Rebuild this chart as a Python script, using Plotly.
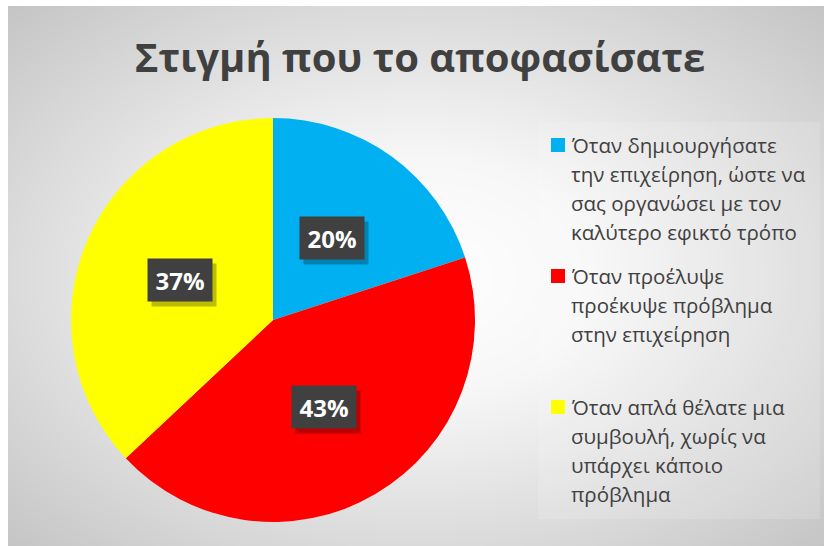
import numpy as np
import plotly.graph_objects as go

# ---- data -------------------------------------------------------------
title_text = "Στιγμή που το αποφασίσατε"
categories = [
    "Όταν δημιουργήσατε την επιχείρηση, ώστε να σας οργανώσει με τον καλύτερο εφικτό τρόπο",
    "Όταν προέλυψε προέκυψε πρόβλημα στην επιχείρηση",
    "Όταν απλά θέλατε μια συμβουλή, χωρίς να υπάρχει κάποιο πρόβλημα",
]
legend_lines = [
    ["Όταν δημιουργήσατε", "την επιχείρηση, ώστε να", "σας οργανώσει με τον", "καλύτερο εφικτό τρόπο"],
    ["Όταν προέλυψε", "προέκυψε πρόβλημα", "στην επιχείρηση"],
    ["Όταν απλά θέλατε μια", "συμβουλή, χωρίς να", "υπάρχει κάποιο", "πρόβλημα"],
]
values = [20, 43, 37]
colors = ["#00B0F0", "#FF0000", "#FFFF00"]

# ---- geometry (pixels) ------------------------------------------------
W, H = 824, 546
CX, CY, R = 273, 320, 202          # pie centre / radius, y measured from top
BG_X0, BG_Y1 = 8, 6                 # chart-area offset inside the page
FONT = "Open Sans"
TEXT_DARK = "#404040"


def px_x(x):
    return x / W


def px_y(y):
    return 1 - y / H


fig = go.Figure()

# soft radial background (white centre fading to grey edges)
gx = np.linspace(-1, 1, 61)
gy = np.linspace(-1, 1, 41)
XX, YY = np.meshgrid(gx, gy)
dist = np.sqrt(XX ** 2 + YY ** 2)
fig.add_trace(go.Heatmap(
    x=gx, y=gy, z=dist, zmin=0, zmax=1.45, zsmooth="best",
    colorscale=[[0, "#ffffff"], [0.3, "#f7f7f7"], [1, "#c3c3c3"]],
    showscale=False, hoverinfo="skip", xaxis="x", yaxis="y",
))

# pie
fig.add_trace(go.Pie(
    labels=categories, values=values, sort=False, direction="clockwise",
    rotation=0, marker=dict(colors=colors, line=dict(width=0)),
    textinfo="none", hoverinfo="label+percent", showlegend=False,
    domain=dict(x=[px_x(CX - R), px_x(CX + R)], y=[px_y(CY + R), px_y(CY - R)]),
))

annotations = []
shapes = []

# percentage labels placed half-way along each slice's mid-angle
total = sum(values)
cum = 0
for v in values:
    mid = (cum + v / 2) / total * 2 * np.pi
    cum += v
    lx = CX + 0.5 * R * np.sin(mid)
    ly = CY - 0.5 * R * np.cos(mid)
    pct = f"{round(v / total * 100)}%"
    common = dict(x=px_x(lx), y=px_y(ly), xref="paper", yref="paper",
                  showarrow=False, width=64, height=42, borderpad=0,
                  xanchor="center", yanchor="middle")
    annotations.append(dict(text="", bgcolor="rgba(0,0,0,0.26)",
                            xshift=4, yshift=-5, **common))
    annotations.append(dict(text=f"<b>{pct}</b>", bgcolor="#404040",
                            font=dict(family=FONT, size=24, color="white"),
                            **common))

# legend panel
shapes.append(dict(type="rect", xref="paper", yref="paper",
                   x0=px_x(538), x1=px_x(820), y0=px_y(519), y1=px_y(122),
                   fillcolor="rgba(255,255,255,0.14)", line=dict(width=0),
                   layer="above"))

item_tops = [145, 276, 407]
line_step = 29
for lines, col, top in zip(legend_lines, colors, item_tops):
    shapes.append(dict(type="rect", xref="paper", yref="paper",
                       x0=px_x(551), x1=px_x(565),
                       y0=px_y(top + 7), y1=px_y(top - 7),
                       fillcolor=col, line=dict(width=0), layer="above"))
    for k, line in enumerate(lines):
        annotations.append(dict(
            text=line, x=px_x(569), y=px_y(top + k * line_step),
            xref="paper", yref="paper", xanchor="left", yanchor="middle",
            showarrow=False, font=dict(family=FONT, size=20.5, color=TEXT_DARK),
        ))

fig.update_layout(
    width=W, height=H,
    margin=dict(l=0, r=0, t=0, b=0),
    paper_bgcolor="white", plot_bgcolor="rgba(0,0,0,0)",
    title=dict(text=f"<b>{title_text}</b>", x=px_x(420), y=px_y(58),
               xanchor="center", yanchor="middle",
               font=dict(family=FONT, size=40, color=TEXT_DARK)),
    xaxis=dict(domain=[px_x(BG_X0), 1], range=[-1, 1], visible=False,
               fixedrange=True),
    yaxis=dict(domain=[0, px_y(BG_Y1)], range=[-1, 1], visible=False,
               fixedrange=True),
    annotations=annotations, shapes=shapes, showlegend=False,
)

fig.write_html("out.html")
